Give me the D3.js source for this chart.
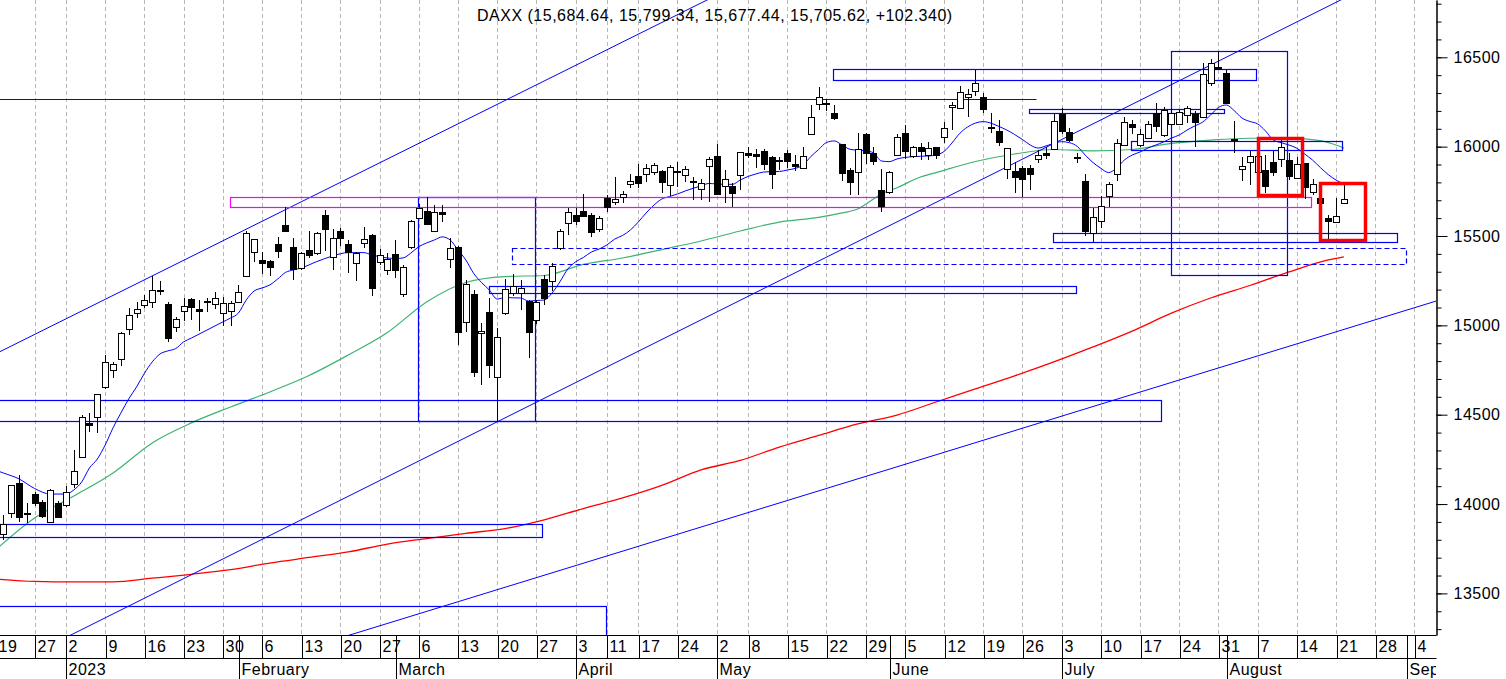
<!DOCTYPE html>
<html><head><meta charset="utf-8">
<script src="https://cdn.jsdelivr.net/npm/d3@7"></script>
<style>
html,body{margin:0;padding:0;background:#fff;overflow:hidden}
svg{display:block;font-family:"Liberation Sans",Arial,sans-serif}
</style></head><body>
<svg id="chart" width="1506" height="679"></svg>
<script>
// ---------------- DATA ----------------
const symbol = "DAXX";
const startDate = "2022-12-19", endDate = "2023-09-08";
const holidays = ["2022-12-26","2023-04-07","2023-04-10","2023-05-01"];
const dayChange = 102.34;
const opens = [13900,13831,13952,14116,13948,14056,14010,13898,14008,13999,14116,14265,14452,14483,14651,14750,14810,14978,15067,15113,15129,15192,15118,14989,15082,15148,15093,15130,15123,15071,15082,15129,15275,15409,15366,15360,15455,15562,15437,15319,15420,15403,15618,15381,15528,15455,15347,15459,15506,15353,15310,15398,15179,15437,15599,15640,15524,15632,15370,15440,15017,15175,14960,15073,14713,15067,15179,15179,15136,15030,15258,15250,15431,15571,15618,15640,15618,15537,15714,15689,15714,15789,15836,15845,15857,15864,15786,15862,15841,15808,15767,15888,15948,15776,15780,15837,15965,15959,15976,15940,15920,15963,15903,15885,16071,16237,16245,16190,16015,15869,15854,16071,15963,15757,15742,15953,16075,15948,15997,15950,15997,16052,16220,16220,16276,16308,16276,16108,16088,15873,15864,15882,15882,15931,15966,15991,16183,16084,15940,15809,15521,15584,15720,15847,16013,16127,16009,16047,16187,16065,16127,16127,16177,16183,16164,16354,16444,16414,16040,15879,15916,15860,15869,15916,15929,15925,15823,15907,15742,15711,15599,15577,15684.64];
const highs = [13990,13939,14107,14162,14004,14065,14023,14085,14018,14101,14302,14500,14508,14617,14834,14797,14960,15099,15132,15170,15276,15250,15132,15045,15151,15151,15142,15151,15185,15160,15135,15226,15530,15482,15409,15366,15496,15664,15487,15412,15528,15524,15646,15537,15546,15478,15412,15549,15510,15430,15403,15478,15340,15590,15680,15720,15673,15673,15490,15445,15254,15198,15015,15151,14983,15258,15286,15254,15140,15140,15282,15350,15540,15655,15655,15735,15630,15610,15730,15832,15754,15845,15903,15903,15910,15870,15897,15916,15890,15830,15819,15940,16015,15870,15795,15970,16000,15985,15985,15945,15944,15981,15953,15997,16233,16335,16265,16233,16015,15880,16075,16078,15997,15875,15866,16071,16121,16005,16019,16028,16000,16140,16250,16339,16321,16429,16302,16190,16149,15995,15916,15890,15897,15981,15997,16183,16215,16106,15966,15847,15655,15724,15800,16043,16168,16149,16097,16144,16246,16220,16210,16205,16228,16200,16466,16489,16535,16429,16143,15944,15975,15960,15953,15978,16047,15963,15944,15910,15817,15715,15618,15711,15799.34];
const lows = [13860,13800,13920,13898,13893,13990,13920,13893,13925,13985,14088,14258,14405,14399,14642,14704,14770,14944,15043,15096,15096,15170,14908,14960,15024,15030,14970,15076,15090,14998,14998,15123,15268,15356,15287,15275,15379,15521,15253,15310,15375,15395,15418,15310,15444,15291,15250,15431,15164,15340,15282,15263,15157,15430,15595,15560,15520,15580,15323,14890,14964,14713,14666,14704,14461,15060,15166,15086,14815,15010,15114,15194,15420,15506,15562,15608,15493,15520,15636,15673,15683,15767,15767,15804,15841,15739,15724,15776,15803,15701,15701,15692,15730,15687,15664,15757,15938,15882,15869,15763,15869,15879,15864,15880,16066,16205,16200,16149,15808,15730,15730,15903,15897,15636,15735,15950,15929,15935,15925,15925,15929,16022,16093,16215,16167,16283,16190,16075,16004,15817,15742,15720,15757,15910,15929,15982,16071,16028,15910,15502,15463,15546,15664,15810,16010,16071,15996,16041,16084,16056,16120,16120,16130,16000,16159,16341,16429,16246,15963,15810,15785,15760,15739,15836,15885,15813,15823,15705,15730,15680,15478,15577,15677.44];
const closes = [13942,13887,14107,13924,13952,14004,13929,14079,13929,14069,14187,14489,14439,14614,14793,14782,14955,15056,15091,15140,15198,15196,14928,15034,15108,15101,15084,15135,15155,15127,15127,15185,15515,15482,15351,15325,15418,15530,15315,15403,15394,15515,15539,15487,15487,15409,15403,15482,15211,15392,15370,15306,15328,15584,15655,15565,15632,15623,15431,14964,15231,14740,14970,14774,14936,15202,15220,15207,14964,15130,15151,15332,15528,15633,15586,15612,15524,15599,15664,15706,15733,15808,15795,15879,15897,15804,15884,15865,15873,15805,15798,15929,15735,15817,15739,15968,15953,15949,15901,15845,15925,15921,15892,15950,16164,16276,16243,16162,15851,15804,15985,15963,15920,15670,15856,16052,15976,15997,15972,15991,15953,16103,16233,16308,16293,16354,16209,16105,16028,15991,15832,15823,15851,15953,15957,16145,16089,16041,15938,15530,15608,15670,15789,16022,16140,16112,16069,16127,16116,16205,16187,16192,16215,16140,16406,16466,16433,16246,16037,15893,15950,15950,15780,15860,15997,15836,15903,15773,15789,15683,15580,15612,15705.62];

// moving averages: [trading-day index, value]
const maShort = [[0,14190],[1,14174],[3,14141],[5,14087],[7,14056],[9,14056],[10,14079],[11,14123],[12,14202],[13,14252],[14,14330],[15,14426],[16,14509],[17,14588],[18,14655],[19,14731],[20,14795],[21,14840],[22,14857],[23,14870],[24,14907],[25,14929],[27,14974],[29,15019],[30,15041],[31,15069],[32,15142],[33,15192],[34,15209],[35,15226],[36,15259],[37,15296],[38,15310],[39,15321],[41,15357],[43,15388],[45,15407],[47,15407],[48,15394],[49,15384],[51,15374],[52,15377],[53,15405],[54,15440],[55,15461],[56,15478],[57,15495],[58,15478],[59,15422],[60,15366],[61,15291],[62,15240],[63,15198],[64,15147],[65,15156],[66,15154],[67,15153],[68,15136],[69,15139],[70,15142],[71,15181],[72,15243],[73,15315],[74,15355],[75,15380],[76,15410],[77,15427],[78,15450],[79,15483],[80,15503],[81,15534],[82,15578],[83,15629],[84,15673],[85,15707],[86,15721],[87,15735],[88,15752],[89,15767],[90,15780],[91,15794],[92,15791],[93,15789],[94,15789],[95,15813],[96,15833],[97,15847],[98,15858],[99,15860],[100,15861],[101,15869],[102,15878],[103,15897],[104,15944],[105,15984],[106,16023],[107,16032],[108,16009],[109,15985],[110,15980],[111,15976],[112,15966],[113,15920],[114,15916],[115,15931],[117,15944],[119,15948],[120,15953],[121,15973],[122,16020],[123,16074],[124,16110],[125,16132],[126,16140],[127,16131],[128,16113],[129,16093],[130,16068],[131,16040],[132,16009],[133,15992],[134,16004],[135,16018],[136,16028],[137,16022],[138,16001],[139,15953],[140,15911],[141,15879],[142,15855],[143,15880],[144,15925],[145,15953],[146,15970],[147,15992],[148,16009],[149,16026],[150,16048],[151,16065],[152,16093],[153,16116],[154,16138],[155,16177],[156,16219],[157,16233],[158,16202],[159,16160],[160,16141],[161,16127],[162,16088],[163,16037],[164,16022],[165,16009],[166,15991],[167,15959],[168,15925],[169,15883],[170,15844],[171,15813],[172,15791]];
const maMid = [[0,13743],[5,13922],[10,14045],[15,14174],[20,14342],[25,14454],[30,14543],[35,14627],[40,14719],[45,14834],[50,14960],[55,15131],[60,15240],[65,15273],[70,15279],[75,15341],[80,15377],[85,15424],[90,15472],[95,15528],[100,15578],[105,15604],[108,15629],[110,15651],[112,15707],[113,15735],[115,15770],[118,15830],[120,15855],[125,15917],[130,15959],[135,15984],[140,15976],[145,15984],[150,16018],[155,16037],[160,16047],[165,16046],[169,16034],[171,16009],[172,15992]];
const maLong = [[0,13581],[5,13567],[10,13564],[15,13564],[20,13585],[25,13607],[30,13633],[35,13670],[40,13701],[45,13732],[50,13776],[55,13807],[60,13836],[65,13863],[70,13912],[75,13975],[80,14034],[85,14104],[90,14191],[95,14244],[100,14319],[105,14384],[110,14448],[115,14498],[120,14571],[125,14644],[130,14717],[135,14795],[140,14879],[145,14968],[150,15068],[155,15153],[160,15223],[165,15299],[170,15366],[172,15383]];

// trend lines: two anchors each [index, value]
const trendLines = [
  [[-5,14731],[100,17022]],
  [[0,13056],[180,17005]],
  [[40,13197],[190,15220]]
];
// rectangles: [startIndex, endIndex, high, low]
const blueBoxes = [
  [-3,148.7,14583,14465],
  [-3,69.7,13887,13814],
  [53.9,68.8,15717,14461],
  [62.9,137.8,15222,15185],
  [106.9,160.8,16433,16369],
  [131.9,156.8,16209,16187],
  [144.9,171.8,16034,15985],
  [134.9,178.8,15515,15465],
  [150,164.8,16538,15282],
  [-3,77.9,13431,13000]
];
const dashedBoxes = [[65.9,179.9,15431,15343]];
const magentaBoxes = [[29.9,167.8,15717,15661]];
const redBoxes = [[161,166.6,16047,15729],[169,174.7,15798,15478]];
const hLines = [[-3,132.8,16265]];

// ---------------- CHART ----------------
const W = 1506, H = 679, plotR = 1436, plotB = 635;
const svg = d3.select("#chart");
const parse = d3.utcParse("%Y-%m-%d"), fmt = d3.utcFormat("%Y-%m-%d");
const dates = d3.utcDay.range(parse(startDate), d3.utcDay.offset(parse(endDate), 1))
  .filter(d => d.getUTCDay() % 6 !== 0 && !holidays.includes(fmt(d)));
const n = dates.length;
const x = d3.scaleLinear().domain([0, n - 1]).range([-4.6, -4.6 + 7.84 * (n - 1)]);
const y = d3.scaleLinear().domain([13267.2, 16820.6]).range([plotB, 0]);

const defs = svg.append("defs");
defs.append("clipPath").attr("id", "plotClip").append("rect").attr("x", 0).attr("y", 0).attr("width", plotR).attr("height", plotB);
defs.append("clipPath").attr("id", "axClip").append("rect").attr("x", 0).attr("y", plotB).attr("width", plotR).attr("height", H - plotB);

// week / month ticks
const weekIdx = [], monthIdx = [];
dates.forEach((d, i) => {
  if (i === 0 || d3.utcMonday.floor(d).getTime() !== d3.utcMonday.floor(dates[i - 1]).getTime()) weekIdx.push(i);
  if (i > 0 && d.getUTCMonth() !== dates[i - 1].getUTCMonth()) monthIdx.push(i);
});

const plot = svg.append("g").attr("clip-path", "url(#plotClip)");
// grid
plot.append("g").selectAll("line").data(weekIdx).join("line")
  .attr("x1", i => Math.round(x(i)) + 0.5).attr("x2", i => Math.round(x(i)) + 0.5)
  .attr("y1", 0).attr("y2", plotB)
  .attr("stroke", "#b8b8b8").attr("stroke-dasharray", "4,3").attr("stroke-width", 1);

// moving averages
const lineGen = d3.line().x(d => x(d[0])).y(d => y(d[1]));
plot.append("path").datum(maLong).attr("d", lineGen.curve(d3.curveMonotoneX)).attr("fill", "none").attr("stroke", "#ff0000").attr("stroke-width", 1.3);
plot.append("path").datum(maMid).attr("d", lineGen.curve(d3.curveMonotoneX)).attr("fill", "none").attr("stroke", "#3cb371").attr("stroke-width", 1.2);
plot.append("path").datum(maShort).attr("d", lineGen.curve(d3.curveMonotoneX)).attr("fill", "none").attr("stroke", "#0000ff").attr("stroke-width", 1);

// trend lines
plot.append("g").selectAll("path").data(trendLines).join("path")
  .attr("d", d3.line().x(d => x(d[0])).y(d => y(d[1])))
  .attr("fill", "none").attr("stroke", "#0000ff").attr("stroke-width", 1);

function boxes(data, color, width, dash) {
  plot.append("g").selectAll("rect").data(data).join("rect")
    .attr("x", d => Math.round(x(d[0])) + 0.5).attr("y", d => Math.round(y(d[2])) + 0.5)
    .attr("width", d => Math.round(x(d[1]) - x(d[0])))
    .attr("height", d => Math.round(y(d[3]) - y(d[2])))
    .attr("fill", "none").attr("stroke", color).attr("stroke-width", width)
    .attr("stroke-dasharray", dash || null);
}
boxes(blueBoxes, "#0000ff", 1.2);
boxes(dashedBoxes, "#0000ff", 1.2, "5,3");
boxes(magentaBoxes, "#ff00ff", 1.2);
plot.append("g").selectAll("line").data(hLines).join("line")
  .attr("x1", d => x(d[0])).attr("x2", d => x(d[1]))
  .attr("y1", d => Math.round(y(d[2])) + 0.5).attr("y2", d => Math.round(y(d[2])) + 0.5)
  .attr("stroke", "#0000ff").attr("stroke-width", 1.2);

// candles
const cg = plot.append("g").attr("shape-rendering", "crispEdges");
const idx = d3.range(closes.length);
cg.selectAll("line").data(idx).join("line")
  .attr("x1", i => Math.round(x(i)) + 0.5).attr("x2", i => Math.round(x(i)) + 0.5)
  .attr("y1", i => y(highs[i])).attr("y2", i => y(lows[i]))
  .attr("stroke", "#000").attr("stroke-width", 1.2);
cg.selectAll("rect").data(idx).join("rect")
  .attr("x", i => Math.round(x(i)) - 2.5).attr("width", 6)
  .attr("y", i => Math.round(y(Math.max(opens[i], closes[i]))) + 0.5)
  .attr("height", i => Math.max(1, Math.round(y(Math.min(opens[i], closes[i])) - y(Math.max(opens[i], closes[i])))))
  .attr("fill", i => closes[i] >= opens[i] ? "#fff" : "#000")
  .attr("stroke", "#000").attr("stroke-width", 1.2);

boxes(redBoxes, "#ff0000", 3.5);

// right axis
const fontCss = g => g.attr("font-family", "'Liberation Sans',Arial,sans-serif").attr("font-size", 16);
svg.append("g").attr("transform", `translate(${plotR + 0.5},0)`)
  .call(d3.axisRight(y).tickValues(d3.range(13300, 16900, 100)).tickSize(5).tickSizeOuter(0).tickFormat(""))
  .call(g => g.selectAll("line,path").attr("stroke", "#000"));
svg.append("g").attr("transform", `translate(${plotR + 0.5},0)`)
  .call(d3.axisRight(y).tickValues(d3.range(13500, 16600, 500)).tickSize(11).tickSizeOuter(0).tickPadding(6).tickFormat(d3.format("d")))
  .call(fontCss)
  .call(g => g.selectAll("line,path").attr("stroke", "#000"))
  .call(g => g.selectAll("text").attr("fill", "#000").attr("letter-spacing", "0.5px"));

// bottom axes
const ax = svg.append("g").attr("clip-path", "url(#axClip)");
const dayG = ax.append("g").attr("transform", `translate(0,${plotB})`)
  .call(d3.axisBottom(x).tickValues(weekIdx).tickSize(23).tickSizeOuter(0).tickFormat(i => dates[i].getUTCDate()))
  .call(fontCss);
dayG.select(".domain").remove();
dayG.selectAll(".tick").attr("transform", function () {
  const t = d3.select(this).attr("transform").match(/translate\(([-\d.]+)/);
  return `translate(${Math.round(+t[1]) + 0.5},0)`;
});
dayG.selectAll("line").attr("stroke", "#000");
dayG.selectAll("text").attr("text-anchor", "start").attr("dy", null).attr("y", 16.5).attr("x", 2)
  .attr("fill", "#000").attr("letter-spacing", "0.5px");

const monthName = d3.utcFormat("%B");
const monG = ax.append("g").attr("transform", `translate(0,${plotB})`)
  .call(d3.axisBottom(x).tickValues(monthIdx).tickSize(44).tickSizeOuter(0)
    .tickFormat(i => dates[i].getUTCMonth() === 0 ? String(dates[i].getUTCFullYear()) : monthName(dates[i])))
  .call(fontCss);
monG.select(".domain").remove();
monG.selectAll(".tick").attr("transform", function () {
  const t = d3.select(this).attr("transform").match(/translate\(([-\d.]+)/);
  return `translate(${Math.round(+t[1]) + 0.5},0)`;
});
monG.selectAll("line").attr("stroke", "#000");
monG.selectAll("text").attr("text-anchor", "start").attr("dy", null).attr("y", 39.5).attr("x", 2)
  .attr("fill", "#000").attr("letter-spacing", "0.5px");

// axis frame lines
svg.append("line").attr("x1", 0).attr("x2", plotR + 0.5).attr("y1", plotB + 0.5).attr("y2", plotB + 0.5).attr("stroke", "#000");
svg.append("line").attr("x1", 0).attr("x2", plotR + 0.5).attr("y1", 658.5).attr("y2", 658.5).attr("stroke", "#000");

// title
const last = closes.length - 1;
const f2 = d3.format(",.2f");
svg.append("text").attr("x", 477).attr("y", 21)
  .attr("font-size", 16).attr("letter-spacing", "0.5px").attr("fill", "#000")
  .text(`${symbol} (${f2(opens[last])}, ${f2(highs[last])}, ${f2(lows[last])}, ${f2(closes[last])}, +${d3.format(".3f")(dayChange)})`);
</script>
</body></html>
